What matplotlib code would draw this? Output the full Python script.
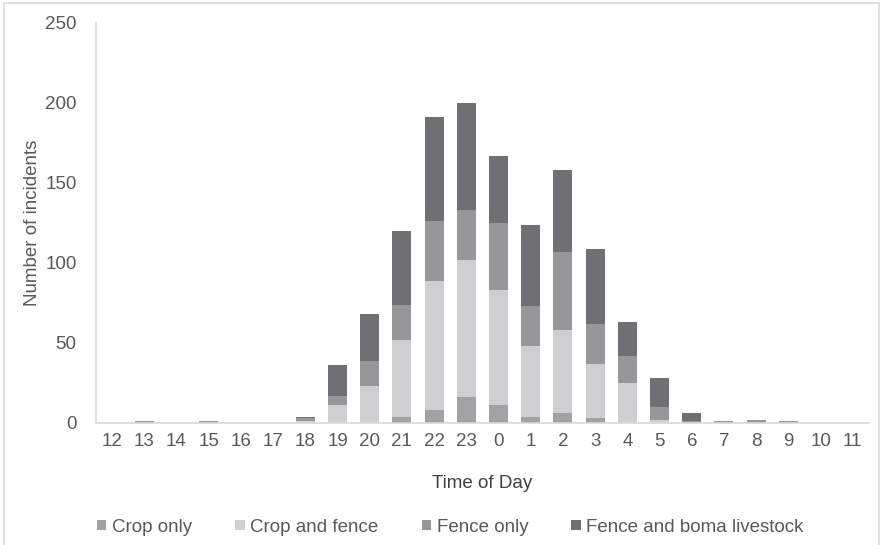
import numpy as np
import matplotlib.pyplot as plt
from matplotlib.patches import Rectangle

plt.rcParams['font.family'] = ['Liberation Sans', 'DejaVu Sans']

# Hours of the day, starting at noon
hours = ['12', '13', '14', '15', '16', '17', '18', '19', '20', '21', '22', '23',
         '0', '1', '2', '3', '4', '5', '6', '7', '8', '9', '10', '11']

# Incidents per hour, by type
crop_only = [0, 0, 0, 0, 0, 0, 0, 0, 0, 4, 8, 16, 11, 4, 6, 3, 0, 0, 0, 0, 0, 0, 0, 0]
crop_fence = [0, 0, 0, 0, 0, 0, 1, 11, 23, 48, 81, 86, 72, 44, 52, 34, 25, 2, 0, 0, 0, 0, 0, 0]
fence_only = [0, 1, 0, 1, 0, 0, 2, 6, 16, 22, 37, 31, 42, 25, 49, 25, 17, 8, 1, 1, 2, 1, 0, 0]
fence_boma = [0, 0, 0, 0, 0, 0, 1, 19, 29, 46, 65, 67, 42, 51, 51, 47, 21, 18, 5, 0, 0, 0, 0, 0]

series = [
    ('Crop only', crop_only, '#a2a2a5'),
    ('Crop and fence', crop_fence, '#cfcfd1'),
    ('Fence only', fence_only, '#97979a'),
    ('Fence and boma livestock', fence_boma, '#707074'),
]

fig = plt.figure(figsize=(8.83, 5.45), dpi=100)
ax = fig.add_axes([0.1087, 0.2239, 0.8753, 0.7339])

x = np.arange(len(hours))
bottom = np.zeros(len(hours))
for name, vals, col in series:
    ax.bar(x, vals, width=0.59, bottom=bottom, color=col, label=name)
    bottom += np.array(vals)

ax.set_xlim(-0.5, len(hours) - 0.5)
ax.set_ylim(0, 250)
ax.set_yticks(range(0, 251, 50))
ax.set_xticks(x)
ax.set_xticklabels(hours)
ax.tick_params(length=0, labelsize=13.5, colors='#595959', pad=7)
ax.tick_params(axis='y', pad=14)

for s in ['top', 'right']:
    ax.spines[s].set_visible(False)
for s in ['left', 'bottom']:
    ax.spines[s].set_color('#d9d9d9')
    ax.spines[s].set_linewidth(1.2)

ax.set_xlabel('Time of Day', fontsize=13.5, color='#404040', labelpad=18)
ax.set_ylabel('Number of incidents', fontsize=13.5, color='#595959', labelpad=3)

handles, labels = ax.get_legend_handles_labels()
fig.legend(handles, labels, loc='center', bbox_to_anchor=(0.51, 0.033), ncol=4,
           frameon=False, fontsize=13.5, handlelength=0.5, handleheight=0.5,
           handletextpad=0.3, columnspacing=2.3, labelcolor='#595959')

# light chart-area border
fig.patches.append(Rectangle((0.004, -0.01), 0.992, 1.004, transform=fig.transFigure,
                             fill=False, edgecolor='#d9d9d9', linewidth=1.2))

fig.savefig('out.png', dpi=100)
